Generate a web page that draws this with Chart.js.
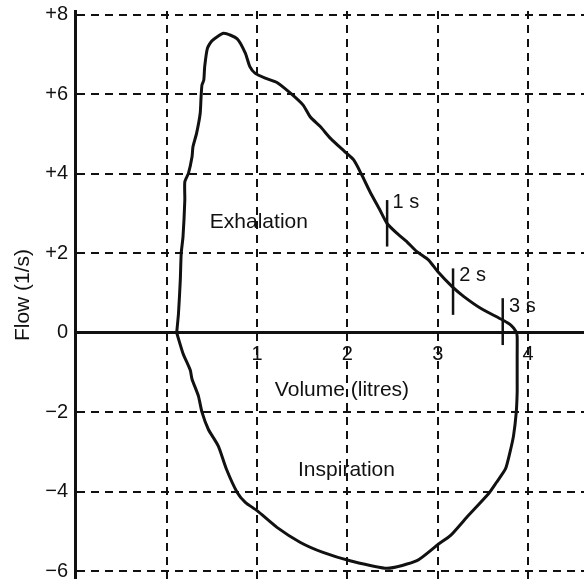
<!DOCTYPE html>
<html lang="en">
<head>
<meta charset="UTF-8">
<title>Flow-volume loop</title>
<script src="https://cdn.jsdelivr.net/npm/chart.js"></script>
<style>
    body { margin: 0; background: #ffffff; }
    #wrap { width: 584px; height: 579px; }
</style>
</head>
<body>
<div id="wrap"><canvas id="loopChart"></canvas></div>
<script>
// loop: exhalation (upper half) then inspiration (lower half)
const loopVolume = [0.11, 0.13, 0.15, 0.16, 0.18, 0.20, 0.20, 0.24, 0.28, 0.29, 0.33, 0.37, 0.38, 0.39, 0.41, 0.42, 0.45, 0.50, 0.63, 0.78, 0.87, 0.92, 0.98, 1.09, 1.22, 1.37, 1.51, 1.59, 1.70, 1.81, 1.97, 2.07, 2.16, 2.25, 2.36, 2.44, 2.55, 2.66, 2.77, 2.90, 3.00, 3.16, 3.29, 3.48, 3.72, 3.81, 3.87, 3.88,
    3.88, 3.88, 3.88, 3.87, 3.84, 3.80, 3.75, 3.65, 3.56, 3.32, 3.14, 3.01, 2.77, 2.44, 2.03, 1.73, 1.48, 1.22, 1.00, 0.87, 0.78, 0.66, 0.57, 0.46, 0.39, 0.35, 0.28, 0.26, 0.18, 0.11];
const loopFlow = [0.00, 0.49, 1.33, 2.00, 2.42, 3.34, 3.80, 4.01, 4.43, 4.68, 5.02, 5.52, 5.94, 6.24, 6.36, 6.70, 7.16, 7.35, 7.54, 7.40, 7.04, 6.70, 6.53, 6.41, 6.30, 6.03, 5.73, 5.43, 5.19, 4.90, 4.56, 4.35, 3.97, 3.55, 3.09, 2.75, 2.50, 2.29, 2.04, 1.83, 1.54, 1.16, 0.91, 0.61, 0.32, 0.19, 0.02, -0.10,
    -0.60, -1.19, -1.50, -2.00, -2.59, -3.01, -3.43, -3.77, -4.06, -4.65, -5.11, -5.32, -5.74, -5.93, -5.74, -5.53, -5.28, -4.90, -4.48, -4.27, -4.02, -3.43, -2.85, -2.43, -2.00, -1.59, -1.17, -0.94, -0.52, 0.00];

// time marks on the exhalation limb
const markVolume = [2.44, 3.17, 3.72];
const markTop = [3.34, 1.62, 0.87];
const markBottom = [2.17, 0.45, -0.31];
const markText = ['1 s', '2 s', '3 s'];
const markTextVolume = [2.50, 3.24, 3.79];
const markTextFlow = [3.27, 1.45, 0.65];

// words written inside the plot
const noteText = ['Exhalation', 'Inspiration', 'Volume (litres)'];
const noteVolume = [1.02, 1.99, 1.94];
const noteFlow = [2.79, -3.46, -1.44];

const xTicks = [0, 1, 2, 3, 4];
const xTickLabels = ['', '1', '2', '3', '4'];
const yTicks = [-6, -4, -2, 0, 2, 4, 6, 8];
const yTickLabels = ['\u22126', '\u22124', '\u22122', '0', '+2', '+4', '+6', '+8'];

const ink = '#111111';
Chart.defaults.font.family = '"Liberation Sans", Arial, sans-serif';
Chart.defaults.color = ink;

const loopPoints = loopVolume.map((v, i) => ({ x: v, y: loopFlow[i] }));

const markSets = markVolume.map((v, i) => ({
    data: [{ x: v, y: markBottom[i] }, { x: v, y: markTop[i] }],
    showLine: true,
    borderColor: ink,
    borderWidth: 2.5,
    pointRadius: 0
}));

// draws the free text labels at data positions
const notesPlugin = {
    id: 'notes',
    afterDatasetsDraw(chart) {
        const { ctx, scales: { x, y } } = chart;
        ctx.save();
        ctx.fillStyle = ink;
        ctx.textBaseline = 'middle';
        ctx.font = '21px "Liberation Sans", Arial, sans-serif';
        ctx.textAlign = 'center';
        noteText.forEach((t, i) => {
            ctx.fillText(t, x.getPixelForValue(noteVolume[i]), y.getPixelForValue(noteFlow[i]));
        });
        ctx.font = '20px "Liberation Sans", Arial, sans-serif';
        ctx.textAlign = 'left';
        markText.forEach((t, i) => {
            ctx.fillText(t, x.getPixelForValue(markTextVolume[i]), y.getPixelForValue(markTextFlow[i]));
        });
        ctx.restore();
    }
};

new Chart(document.getElementById('loopChart'), {
    type: 'scatter',
    data: {
        datasets: [{
            data: loopPoints,
            showLine: true,
            borderColor: ink,
            borderWidth: 3,
            tension: 0.2,
            pointRadius: 0
        }, ...markSets]
    },
    options: {
        responsive: true,
        maintainAspectRatio: false,
        animation: false,
        layout: { padding: { top: 11, right: 0, bottom: 0, left: 0 } },
        plugins: {
            legend: { display: false },
            tooltip: { enabled: false }
        },
        scales: {
            x: {
                type: 'linear',
                min: -1.016,
                max: 4.62,
                position: { y: 0 },
                afterBuildTicks: (s) => { s.ticks = xTicks.map(v => ({ value: v })); },
                afterFit: (s) => { s.paddingLeft = 0; s.paddingRight = 0; },
                ticks: {
                    padding: 10,
                    font: { size: 20 },
                    callback: (v) => xTickLabels[xTicks.indexOf(v)]
                },
                grid: { color: ink, lineWidth: 2, drawTicks: false },
                border: { color: ink, width: 3, dash: [8, 6] }
            },
            y: {
                type: 'linear',
                min: -6.2,
                max: 8.1,
                afterBuildTicks: (s) => { s.ticks = yTicks.map(v => ({ value: v })); },
                afterFit: (s) => { s.width = 75; s.paddingTop = 0; s.paddingBottom = 0; },
                ticks: {
                    padding: 7,
                    font: { size: 20 },
                    callback: (v) => yTickLabels[yTicks.indexOf(v)]
                },
                grid: { color: ink, lineWidth: 2, drawTicks: false },
                border: { color: ink, width: 3, dash: [8, 6] },
                title: {
                    display: true,
                    text: 'Flow (1/s)',
                    font: { size: 21 },
                    padding: { top: 11, bottom: 0 }
                }
            }
        }
    },
    plugins: [notesPlugin]
});
</script>
</body>
</html>
